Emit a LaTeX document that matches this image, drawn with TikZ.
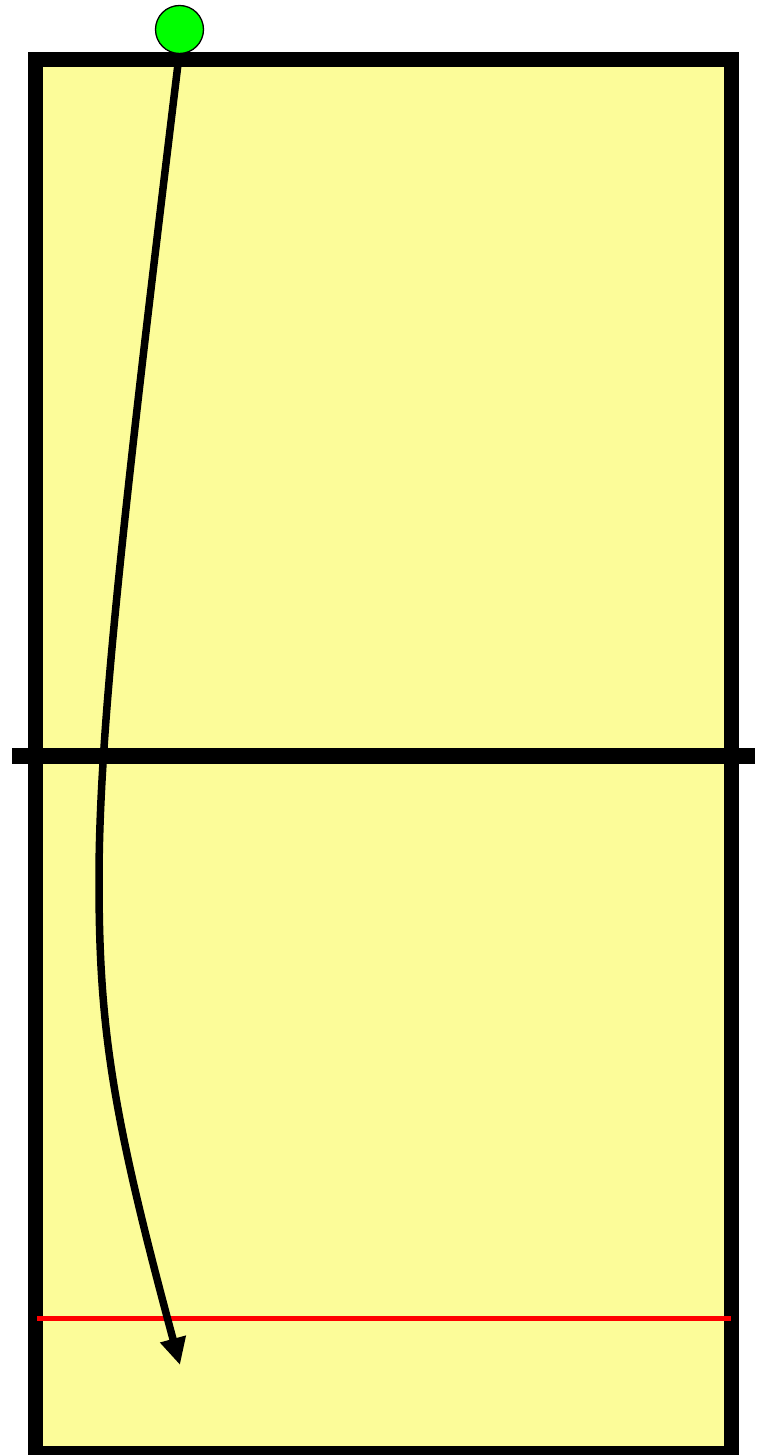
\documentclass[tikz,border=0pt]{standalone}
\usetikzlibrary{arrows.meta}
\definecolor{court}{RGB}{252,252,153}
\definecolor{ballgreen}{RGB}{0,255,0}
\begin{document}
\begin{tikzpicture}[x=1pt,y=-1pt,
  courtline/.style={line width=15pt,draw=black},
  netline/.style={line width=16pt,draw=black},
  redline/.style={line width=5pt,draw=red},
  ballnode/.style={circle,fill=ballgreen,draw=black,line width=1.3pt,minimum size=48pt,inner sep=0pt},
  path/.style={line width=7.5pt,draw=black,-{Triangle[length=27pt,width=25pt]}}]
\useasboundingbox (0,0) rectangle (761,1455);
\draw[courtline,fill=court] (35.5,60) rectangle (731,1453);
\draw[netline] (12,756) -- (755,756);
\coordinate (r1) at (37,1318);
\coordinate (r2) at (731,1318);
\draw[redline] (r1) -- (r2);
\node[ballnode] (ball) at (179.5,29.5) {};
\coordinate (start) at (178,64);
\coordinate (mid) at (99,880);
\coordinate (end) at (180,1365);
\draw[path] (start) .. controls (123.5,514) and (99,730) .. (mid)
  .. controls (99,1030) and (112.5,1115) .. (end);
\end{tikzpicture}
\end{document}
